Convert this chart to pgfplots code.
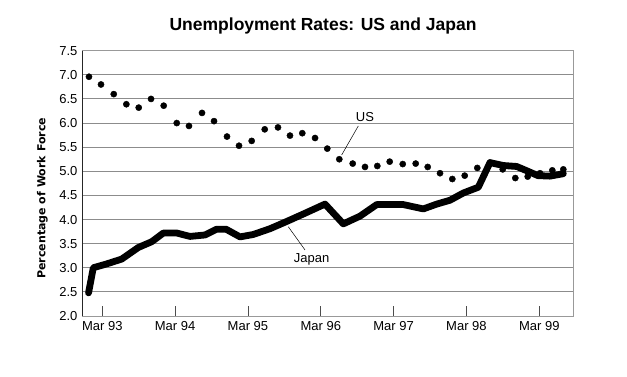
\documentclass[border=0pt]{standalone}
\usepackage{pgfplots}
\pgfplotsset{compat=1.18}
\usepackage{fontspec}
\setmainfont{Liberation Sans}
\newfontfamily\labfont{DejaVu Sans}
\begin{document}
\begin{tikzpicture}
\path[use as bounding box] (-82pt,-60pt) rectangle (545pt,316pt);
\begin{axis}[
  scale only axis,
  width=491pt, height=265.3pt,
  xmin=92.721, xmax=99.463,
  ymin=2, ymax=7.5,
  xtick={93,94,95,96,97,98,99},
  xticklabels={Mar 93,Mar 94,Mar 95,Mar 96,Mar 97,Mar 98,Mar 99},
  ytick={2,2.5,...,7.5},
  tick pos=left,
  tick align=inside,
  major tick length=10pt,
  xtick style={black!70, line width=0.8pt},
  ytick style={draw=none},
  ymajorgrids,
  grid style={black!45, line width=0.9pt},
  axis line style={black!40, line width=0.9pt},
  /pgf/number format/assume math mode=true,
  yticklabel style={/pgf/number format/.cd, fixed, fixed zerofill, precision=1, /tikz/.cd, font=\fontsize{13}{15}\selectfont, xshift=-1pt},
  xticklabel style={font=\fontsize{13}{15}\selectfont, yshift=-2pt},
  clip=false,
]
\addplot[only marks, mark=*, mark size=3.1pt, black] coordinates {
(92.817,6.96) (92.982,6.80) (93.157,6.60) (93.330,6.39) (93.500,6.32)
(93.669,6.50) (93.843,6.36) (94.022,6.00) (94.190,5.94) (94.369,6.21)
(94.534,6.04) (94.712,5.72) (94.877,5.53) (95.051,5.63) (95.230,5.87)
(95.412,5.91) (95.577,5.74) (95.746,5.79) (95.921,5.69) (96.089,5.47)
(96.254,5.25) (96.438,5.16) (96.607,5.09) (96.776,5.11) (96.946,5.20)
(97.125,5.15) (97.303,5.16) (97.468,5.09) (97.637,4.96) (97.806,4.84)
(97.976,4.91) (98.149,5.07) (98.323,5.18) (98.498,5.04) (98.671,4.86)
(98.841,4.89) (99.010,4.96) (99.179,5.02) (99.330,5.04)
};
\addplot[black, line width=6.8pt, line join=round, line cap=round] coordinates {
(92.811,2.48) (92.876,3.00) (93.060,3.08) (93.266,3.18) (93.494,3.42)
(93.678,3.54) (93.838,3.72) (94.022,3.72) (94.204,3.65) (94.410,3.68)
(94.571,3.80) (94.698,3.80) (94.891,3.64) (95.073,3.69) (95.303,3.81)
(95.532,3.96) (95.783,4.13) (96.058,4.32) (96.309,3.91) (96.538,4.07)
(96.768,4.31) (97.133,4.31) (97.408,4.22) (97.592,4.32) (97.774,4.40)
(97.957,4.55) (98.163,4.67) (98.323,5.18) (98.506,5.12) (98.690,5.10)
(98.845,5.00) (98.982,4.91) (99.147,4.90) (99.330,4.95)
};
\draw[black!85, line width=0.9pt] (rel axis cs:0,0) -- (rel axis cs:0,1);
\draw[black, line width=0.5pt] (axis cs:96.515,5.94) -- (axis cs:96.287,5.34);
\node[font=\fontsize{13}{15}\selectfont] at (axis cs:96.607,6.13) {US};
\draw[black, line width=0.5pt] (axis cs:95.554,3.85) -- (axis cs:95.783,3.37);
\node[font=\fontsize{13}{15}\selectfont] at (axis cs:95.875,3.17) {Japan};
\node[font=\fontsize{17.5}{20}\selectfont\bfseries] at (axis description cs:0.491,1.0943) {Unemployment Rates: US and Japan};
\node[rotate=90, font=\labfont\bfseries\fontsize{11}{13}\selectfont] at (axis description cs:-0.0809,0.4437) {Percentage of Work Force};
\end{axis}
\end{tikzpicture}
\end{document}
